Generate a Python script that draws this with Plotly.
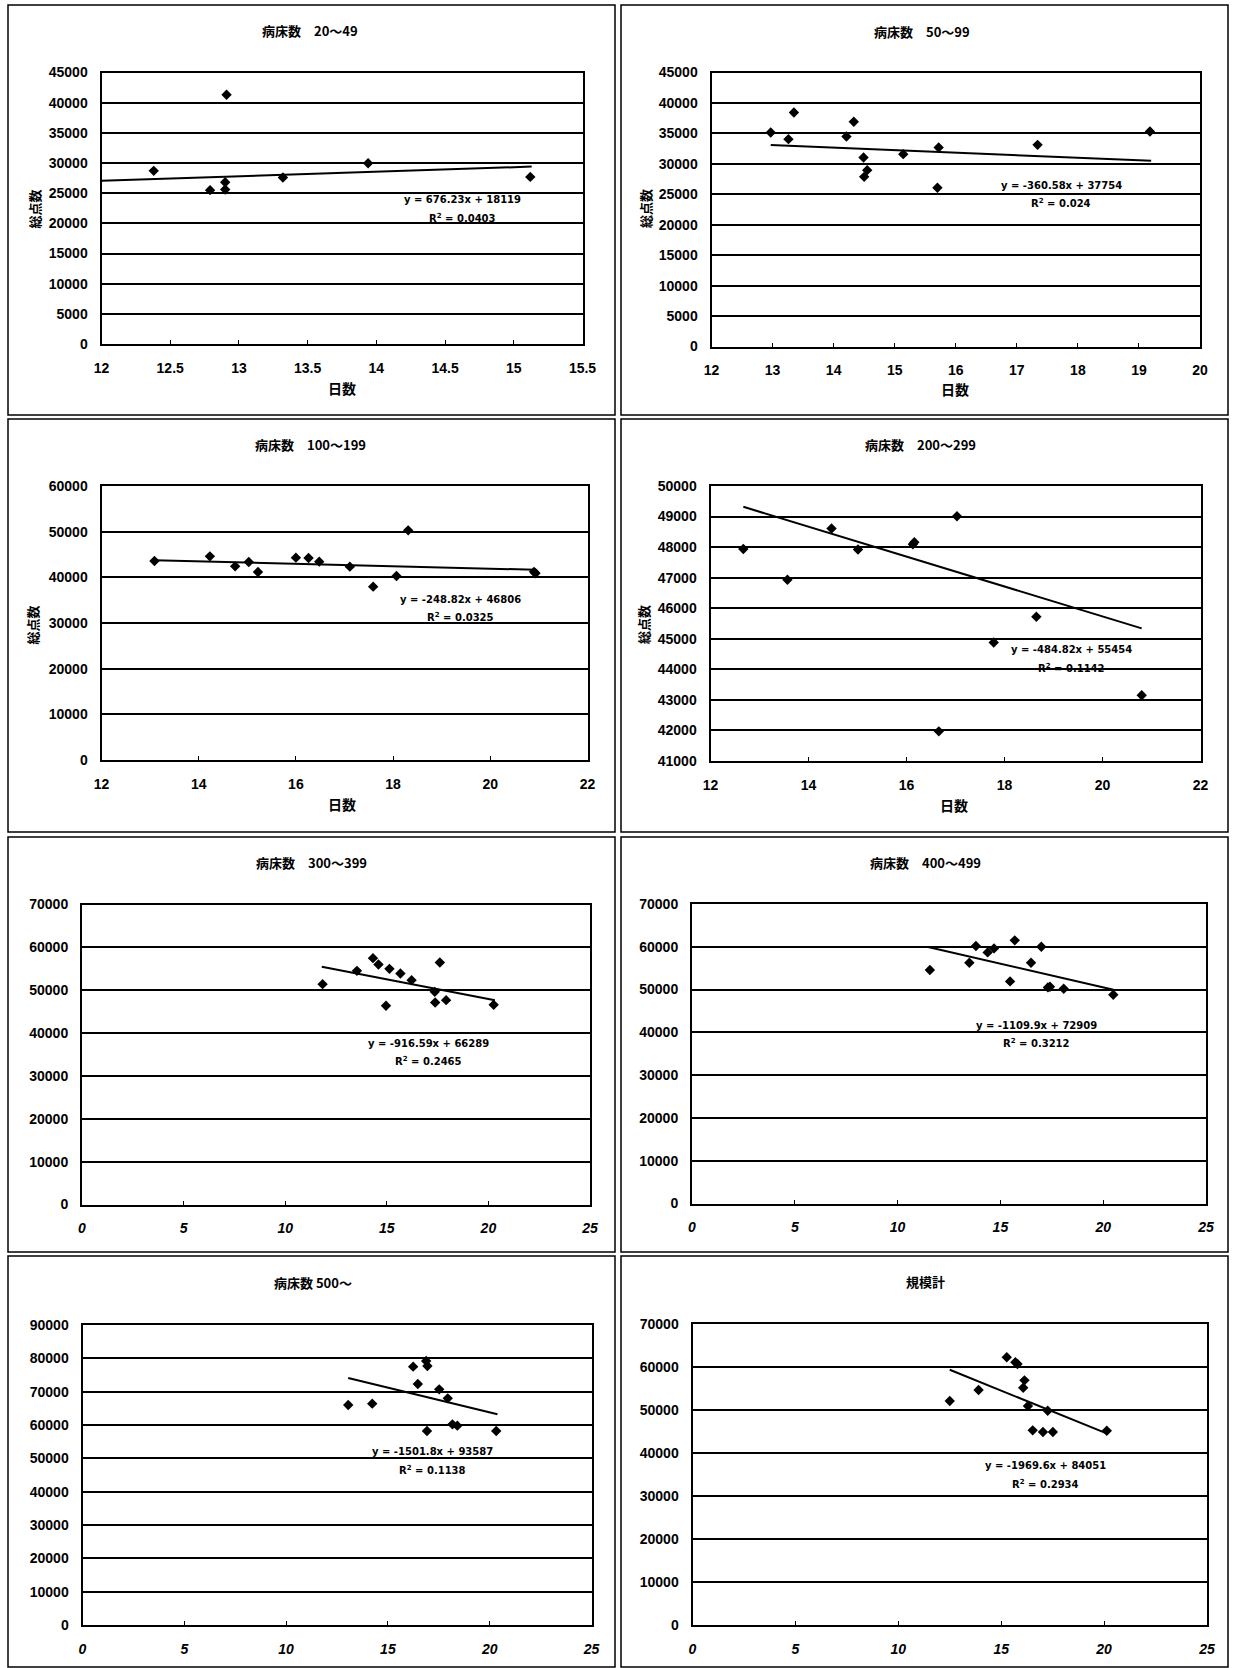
import plotly.graph_objects as go

W, H = 1234, 1668

# ---------------- data ----------------
# 病床数 20～49
x1 = [12.38, 12.79, 12.90, 12.90, 12.91, 13.32, 13.94, 15.12]
y1 = [28700, 25500, 25600, 26800, 41300, 27600, 29950, 27700]
trend1_x = [12.0, 15.13]
trend1_y = [27050, 29400]
eq1 = ["y = 676.23x + 18119", "R<sup>2</sup> = 0.0403"]

# 病床数 50～99
x2 = [12.97, 13.26, 13.35, 14.21, 14.33, 14.49, 14.50, 14.55, 15.14, 15.70, 15.72, 17.34, 19.18]
y2 = [35150, 34050, 38430, 34490, 36900, 31040, 27860, 28960, 31590, 26060, 32680, 33120, 35310]
trend2_x = [12.97, 19.2]
trend2_y = [33100, 30500]
eq2 = ["y = -360.58x + 37754", "R<sup>2</sup> = 0.024"]

# 病床数 100～199
x3 = [13.09, 14.23, 14.75, 15.03, 15.22, 16.00, 16.26, 16.48, 17.11, 17.59, 18.07, 18.31, 20.90, 20.93]
y3 = [43580, 44600, 42410, 43360, 41170, 44310, 44230, 43430, 42340, 37960, 40290, 50290, 41200, 40900]
trend3_x = [13.09, 20.93]
trend3_y = [43750, 41650]
eq3 = ["y = -248.82x + 46806", "R<sup>2</sup> = 0.0325"]

# 病床数 200～299
x4 = [12.67, 13.57, 14.47, 15.01, 16.13, 16.16, 16.66, 17.03, 17.78, 18.65, 20.80]
y4 = [47940, 46930, 48610, 47920, 48090, 48160, 41970, 49010, 44880, 45720, 43150]
trend4_x = [12.67, 20.8]
trend4_y = [49320, 45340]
eq4 = ["y = -484.82x + 55454", "R<sup>2</sup> = 0.1142"]

# 病床数 300～399
x5 = [11.84, 13.53, 14.32, 14.59, 14.96, 15.13, 15.67, 16.22, 17.36, 17.38, 17.61, 17.92, 20.26]
y5 = [51410, 54520, 57480, 56000, 46360, 54990, 53900, 52350, 49620, 47130, 56470, 47680, 46590]
trend5_x = [11.8, 20.32]
trend5_y = [55460, 47670]
eq5 = ["y = -916.59x + 66289", "R<sup>2</sup> = 0.2465"]

# 病床数 400～499
x6 = [11.57, 13.49, 13.81, 14.38, 14.69, 15.47, 15.70, 16.49, 16.99, 17.31, 17.41, 18.08, 20.49]
y6 = [54560, 56280, 60170, 58690, 59620, 51910, 61500, 56280, 60020, 50510, 50660, 50190, 48790]
trend6_x = [11.48, 20.5]
trend6_y = [59950, 49950]
eq6 = ["y = -1109.9x + 72909", "R<sup>2</sup> = 0.3212"]

# 病床数 500～
x7 = [13.05, 14.23, 16.24, 16.47, 16.88, 16.92, 16.94, 17.52, 17.94, 18.17, 18.41, 20.32]
y7 = [66000, 66400, 77500, 72300, 79200, 58200, 77700, 70700, 68000, 60200, 59800, 58200]
trend7_x = [13.05, 20.38]
trend7_y = [74100, 63200]
eq7 = ["y = -1501.8x + 93587", "R<sup>2</sup> = 0.1138"]

# 規模計
x8 = [12.5, 13.9, 15.27, 15.69, 15.79, 16.07, 16.13, 16.30, 16.53, 17.03, 17.26, 17.51, 20.13]
y8 = [52090, 54650, 62250, 61090, 60700, 55190, 56900, 50930, 45270, 44880, 49840, 44880, 45190]
trend8_x = [12.5, 20.18]
trend8_y = [59350, 44450]
eq8 = ["y = -1969.6x + 84051", "R<sup>2</sup> = 0.2934"]

titles = ["病床数　20～49", "病床数　50～99", "病床数　100～199", "病床数　200～299",
          "病床数　300～399", "病床数　400～499", "病床数 500～", "規模計"]
x_ranges = [[12, 15.5], [12, 20], [12, 22], [12, 22], [0, 25], [0, 25], [0, 25], [0, 25]]
x_dticks = [0.5, 1, 2, 2, 5, 5, 5, 5]
y_ranges = [[0, 45000], [0, 45000], [0, 60000], [41000, 50000],
            [0, 70000], [0, 70000], [0, 90000], [0, 70000]]
y_dticks = [5000, 5000, 10000, 1000, 10000, 10000, 10000, 10000]
x_title = "日数"
y_title = "総点数"

# equation label anchor (data coords): x, y of line 1, y of line 2
eq_pos = [(14.63, 23900, 20930), (17.73, 26500, 23540), (19.38, 35180, 31390), (19.37, 44633, 44033),
          (17.07, 37570, 33520), (16.74, 41700, 37410), (17.21, 52200, 46500), (17.16, 37050, 32870)]

series = [(x1, y1, trend1_x, trend1_y, eq1), (x2, y2, trend2_x, trend2_y, eq2),
          (x3, y3, trend3_x, trend3_y, eq3), (x4, y4, trend4_x, trend4_y, eq4),
          (x5, y5, trend5_x, trend5_y, eq5), (x6, y6, trend6_x, trend6_y, eq6),
          (x7, y7, trend7_x, trend7_y, eq7), (x8, y8, trend8_x, trend8_y, eq8)]

# ---------------- layout geometry (pixels) ----------------
plot_boxes = [(101.5, 72.5, 582.5, 344), (711.5, 72.5, 1200, 346.5),
              (101.5, 486, 587.5, 760), (710.5, 486, 1200.5, 761),
              (82, 904.5, 590, 1204.5), (692, 904, 1206, 1203.5),
              (82.5, 1325, 591.5, 1625), (692.5, 1324, 1207, 1625)]
title_pos = [(310, 30.5), (922, 32), (310, 444), (920, 444),
             (312, 862.5), (925, 862.5), (313, 1282), (925, 1281)]
ytitle_pos = [(33.5, 209), (645, 209), (31.5, 625), (643, 625)]
xtitle_pos = [(341.6, 388), (954.7, 389), (342, 804), (953.5, 805)]
frames = [(8, 5, 615, 415), (621, 5, 1228, 415),
          (8, 419, 615, 832), (621, 419, 1228, 832),
          (8, 837, 615, 1252), (621, 837, 1228, 1252),
          (8, 1256, 615, 1667), (621, 1256, 1228, 1667)]

NUM_FONT = "Liberation Sans"
CJK_FONT = "Noto Sans CJK JP"

fig = go.Figure()
layout = dict(width=W, height=H, margin=dict(l=0, r=0, t=0, b=0, pad=0, autoexpand=False),
              paper_bgcolor="white", plot_bgcolor="white", showlegend=False)
annotations = []
shapes = []

for i, (xs, ys, tx, ty, eq) in enumerate(series, start=1):
    sfx = "" if i == 1 else str(i)
    xa, ya = "x" + sfx, "y" + sfx
    fig.add_trace(go.Scatter(x=xs, y=ys, mode="markers", xaxis=xa, yaxis=ya,
                             marker=dict(symbol="diamond", size=8, color="black"),
                             hoverinfo="skip"))
    fig.add_trace(go.Scatter(x=tx, y=ty, mode="lines", xaxis=xa, yaxis=ya,
                             line=dict(color="black", width=2), hoverinfo="skip"))
    l, t, r, b = plot_boxes[i - 1]
    lower = i >= 5
    layout["xaxis" + sfx] = dict(
        domain=[l / W, r / W], anchor=ya, range=x_ranges[i - 1], tick0=x_ranges[i - 1][0],
        dtick=x_dticks[i - 1], showgrid=False, zeroline=False, showline=True, mirror=True,
        linecolor="black", linewidth=2, ticks="inside", ticklen=4, tickwidth=1,
        tickcolor="black", ticklabelstandoff=10, automargin=False,
        tickfont=dict(family=NUM_FONT, size=14, color="black", weight="bold",
                      style="italic" if lower else "normal"))
    layout["yaxis" + sfx] = dict(
        domain=[1 - b / H, 1 - t / H], anchor=xa, range=y_ranges[i - 1], tick0=y_ranges[i - 1][0],
        dtick=y_dticks[i - 1], tickformat="d", showgrid=True, gridcolor="black", gridwidth=2,
        zeroline=False, showline=True, mirror=True, linecolor="black", linewidth=2,
        ticks="", ticklabelstandoff=9, automargin=False,
        tickfont=dict(family=NUM_FONT, size=14, color="black", weight="bold"))

    ex, ey1, ey2 = eq_pos[i - 1]
    for txt, ey in ((eq[0], ey1), (eq[1], ey2)):
        annotations.append(dict(xref=xa, yref=ya, x=ex, y=ey, text=txt, showarrow=False,
                                xanchor="center", yanchor="middle",
                                font=dict(family="DejaVu Sans", size=10, color="black", weight="bold")))

    cx, cy = title_pos[i - 1]
    annotations.append(dict(xref="paper", yref="paper", x=cx / W, y=1 - cy / H, text=titles[i - 1],
                            showarrow=False, xanchor="center", yanchor="middle",
                            font=dict(family=CJK_FONT, size=13, color="black", weight="bold")))
    fx0, fy0, fx1, fy1 = frames[i - 1]
    shapes.append(dict(type="rect", xref="paper", yref="paper", x0=fx0 / W, x1=fx1 / W,
                       y0=1 - fy1 / H, y1=1 - fy0 / H, line=dict(color="black", width=1.5)))

for (cx, cy) in ytitle_pos:
    annotations.append(dict(xref="paper", yref="paper", x=cx / W, y=1 - cy / H, text=y_title,
                            textangle=-90, showarrow=False, xanchor="center", yanchor="middle",
                            font=dict(family=CJK_FONT, size=13, color="black", weight="bold")))
for (cx, cy) in xtitle_pos:
    annotations.append(dict(xref="paper", yref="paper", x=cx / W, y=1 - cy / H, text=x_title,
                            showarrow=False, xanchor="center", yanchor="middle",
                            font=dict(family=CJK_FONT, size=14, color="black", weight="bold")))

layout["annotations"] = annotations
layout["shapes"] = shapes
fig.update_layout(**layout)
fig.write_html(
    "out.html",
    post_script="document.body.style.margin='0';document.body.style.padding='0';",
)
